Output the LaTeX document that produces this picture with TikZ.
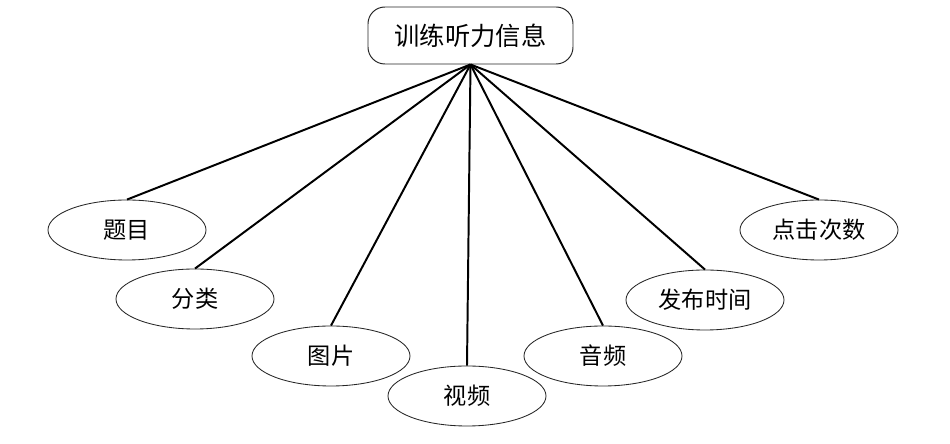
\documentclass[tikz,border=0pt]{standalone}
\usepackage{fontspec}
\setmainfont{Noto Sans CJK SC}
\usepackage{tikz}
\usetikzlibrary{shapes.geometric}

\begin{document}
\begin{tikzpicture}[
  x=0.025cm, y=-0.025cm,
  font=\fontsize{16.5}{18}\selectfont,
  topbox/.style ={draw=black!85, rounded corners=12pt, fill=white, line width=0.7pt,
                  minimum width=205*0.025cm, minimum height=57*0.025cm, inner sep=0pt,
                  font=\fontsize{18}{20}\selectfont},
  attr/.style   ={ellipse, draw=black!85, fill=white, line width=0.6pt,
                  minimum width=158*0.025cm, minimum height=60*0.025cm, inner sep=0pt},
  ln/.style     ={line width=1.4pt, draw=black},
]
\useasboundingbox (0,0) rectangle (950,444);

% ---- entity ----
\node[topbox] (info) at (470.5,35.5) {训练听力信息};

% ---- attributes ----
\node[attr] (tm)  at (127,230) {题目};
\node[attr] (fl)  at (195,299) {分类};
\node[attr] (tp)  at (331,356) {图片};
\node[attr] (sp)  at (467,396) {视频};
\node[attr] (yp)  at (603,356) {音频};
\node[attr] (fb)  at (705,300) {发布时间};
\node[attr] (dj)  at (819,230) {点击次数};

% ---- edges ----
\foreach \a in {tm,fl,tp,sp,yp,fb,dj}
  \draw[ln] (info.south) -- (\a.north);
\end{tikzpicture}
\end{document}
